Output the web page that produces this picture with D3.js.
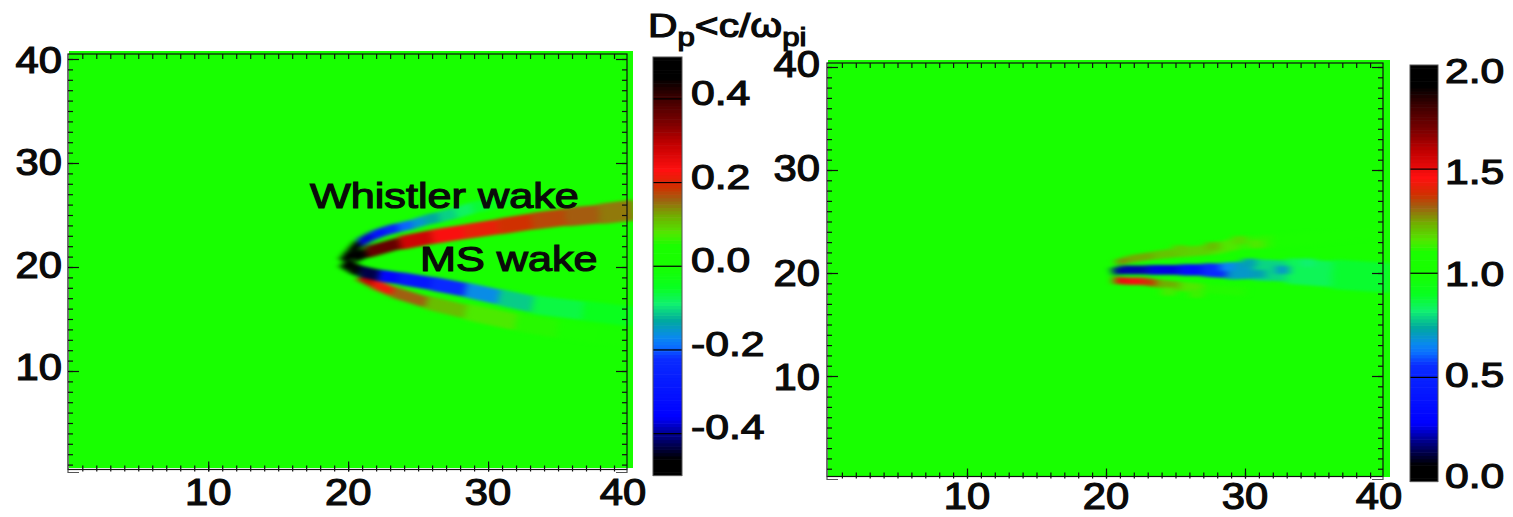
<!DOCTYPE html>
<html>
<head>
<meta charset="utf-8">
<script src="https://cdn.jsdelivr.net/npm/d3@7"></script>
<style>
  html, body { margin: 0; background: #fff; overflow: hidden; }
  text { font-family: "Liberation Sans", Arial, sans-serif; fill: #0a0a0a; stroke: #0a0a0a; stroke-width: 1.2px; }
</style>
</head>
<body>
<div id="chart"></div>
<script>
const axisTicks = [10, 20, 30, 40];
const minorTicks = d3.range(1, 41);

// colour table, position 0..1 along the bar
const colorStops = [0, 0.04, 0.1, 0.14, 0.28, 0.31, 0.33, 0.37, 0.41, 0.45, 0.5, 0.55, 0.58, 0.62, 0.66, 0.69, 0.73, 0.795, 0.84, 0.9, 0.95, 1];
const colorValues = ["#000000", "#000000", "#000090", "#0000ff", "#0a2cff", "#0a70ff", "#0a88f0", "#00a8a0", "#10f070", "#08ff20", "#18ff00", "#1aff00", "#50e800", "#70b000", "#a06010", "#d03000", "#ff1010", "#c00000", "#800000", "#400000", "#000000", "#000000"];

// left panel: wake ridges, x / y / value / width (y units)
const leftOuterX = [20.8, 21.8, 23.2, 25.6, 28.4, 32, 35, 38, 40.5];
const leftOuterY = [19.1, 18.4, 17.6, 16.6, 15.7, 14.7, 14, 13.4, 13];
const leftOuterV = [0.32, 0.25, 0.19, 0.13, 0.09, 0.065, 0.05, 0.04, 0.03];
const leftOuterW = [0.8, 0.9, 1, 1.2, 1.5, 1.7, 1.7, 1.7, 1.7];

const leftInnerX = [20.4, 21.3, 23.7, 26, 28.4, 30.8, 33.2, 35.6, 38, 40.5];
const leftInnerY = [20.8, 21.4, 22.3, 22.9, 23.4, 23.9, 24.4, 24.8, 25.1, 25.5];
const leftInnerV = [0.5, 0.42, 0.31, 0.25, 0.22, 0.2, 0.18, 0.17, 0.155, 0.14];
const leftInnerW = [0.8, 1, 1.3, 1.4, 1.4, 1.5, 1.6, 1.7, 1.9, 2.1];

const leftUpperX = [19.7, 20.2, 20.8, 21.7, 22.7, 23.6, 24.6, 25.5, 26.5, 27.7, 28.9, 30, 32];
const leftUpperY = [20.5, 21.4, 22.3, 23, 23.5, 23.8, 24.1, 24.5, 24.8, 25.2, 25.7, 26, 26.6];
const leftUpperV = [-0.5, -0.5, -0.42, -0.33, -0.28, -0.22, -0.17, -0.14, -0.12, -0.095, -0.07, -0.05, -0.03];
const leftUpperW = [1, 0.9, 0.9, 0.9, 0.9, 0.9, 0.9, 1, 1, 1.1, 1.1, 1.1, 1.1];

const leftLowerX = [19.7, 20.2, 20.8, 22.2, 23.7, 26, 28.4, 30.8, 33.2, 36.8, 40.5];
const leftLowerY = [20.5, 20, 19.6, 19.2, 18.9, 18.4, 17.8, 17.1, 16.4, 15.8, 15.2];
const leftLowerV = [-0.5, -0.5, -0.48, -0.38, -0.31, -0.27, -0.19, -0.14, -0.08, -0.055, -0.035];
const leftLowerW = [1.2, 1.2, 1.1, 1.1, 1.2, 1.3, 1.4, 1.5, 1.7, 1.9, 1.9];

// right panel
const rightCoreX = [20.5, 21, 23, 25.3, 27, 28.7, 30.6, 33, 36.3, 40.5];
const rightCoreY = [20.1, 20.3, 20.3, 20.3, 20.3, 20.2, 20.3, 20.2, 19.9, 19.5];
const rightCoreV = [0.2, 0.2, 0.24, 0.28, 0.44, 0.64, 0.76, 0.82, 0.87, 0.9];
const rightCoreW = [0.7, 0.8, 0.9, 1, 1.2, 1.5, 1.9, 2.2, 2.8, 3];

const rightLowerX = [20.6, 21.5, 22.7, 23.6, 25.3, 27, 30];
const rightLowerY = [19.3, 19.2, 19.2, 19, 18.7, 18.5, 18.2];
const rightLowerV = [1.5, 1.5, 1.44, 1.3, 1.18, 1.14, 1.08];
const rightLowerW = [0.7, 0.7, 0.7, 0.8, 0.9, 0.9, 0.9];

const rightUpperX = [20.8, 21.5, 23.4, 25.3, 27.7, 29.6, 32, 35, 38, 40.5];
const rightUpperY = [21, 21.3, 21.7, 22, 22.3, 22.9, 23.1, 23.4, 23.8, 24];
const rightUpperV = [1.3, 1.27, 1.22, 1.2, 1.18, 1.14, 1.1, 1.07, 1.05, 1.04];
const rightUpperW = [0.5, 0.7, 0.8, 0.9, 1.1, 1.2, 1.3, 1.3, 1.3, 1.3];

// small mottled patches around the right wake
const patchX = [28.7, 30.3, 31, 32.7, 25.3, 27.7, 29.6, 30.8, 24.5, 26.5, 34.5];
const patchY = [20.6, 21, 19.9, 20.3, 22.3, 22.6, 23.2, 22.8, 18.2, 18, 21];
const patchV = [0.66, 0.72, 0.72, 0.7, 1.2, 1.22, 1.18, 1.16, 1.15, 1.14, 0.82];

const leftBarTicks = [0.4, 0.2, 0, -0.2, -0.4];
const rightBarTicks = [2, 1.5, 1, 0.5, 0];

const svg = d3.select("#chart").append("svg")
  .attr("width", 1513)
  .attr("height", 517);

const colorAt = d3.scaleLinear().domain(colorStops).range(colorValues).clamp(true);

function toTracks(...rows) {
  return rows.map(r => r[0].map((x, i) => ({ x: x, y: r[1][i], v: r[2][i], w: r[3][i] })));
}

function drawPanel(p) {
  const x = d3.scaleLinear().domain([0, 40]).range(p.xRange);
  const y = d3.scaleLinear().domain([0, 40]).range(p.yRange);
  const norm = d3.scaleLinear().domain(p.valueDomain).range([0, 1]);
  const g = svg.append("g");

  const clipId = "clip" + p.id;
  g.append("clipPath").attr("id", clipId).append("rect")
    .attr("x", p.field[0]).attr("y", p.field[1])
    .attr("width", p.field[2] - p.field[0]).attr("height", p.field[3] - p.field[1]);

  const blurId = "blur" + p.id;
  g.append("filter").attr("id", blurId)
    .attr("x", "-5%").attr("y", "-5%").attr("width", "110%").attr("height", "110%")
    .attr("color-interpolation-filters", "sRGB")
    .append("feGaussianBlur").attr("stdDeviation", p.blur);

  const field = g.append("g").attr("clip-path", `url(#${clipId})`);
  field.append("rect")
    .attr("x", p.field[0]).attr("y", p.field[1])
    .attr("width", p.field[2] - p.field[0]).attr("height", p.field[3] - p.field[1])
    .attr("fill", colorAt(norm(p.background)));

  const marks = field.append("g").attr("filter", `url(#${blurId})`);
  p.tracks.forEach(track => {
    marks.append("g").selectAll("line")
      .data(d3.pairs(track))
      .enter().append("line")
      .attr("x1", d => x(d[0].x))
      .attr("y1", d => y(d[0].y))
      .attr("x2", d => x(d[1].x))
      .attr("y2", d => y(d[1].y))
      .attr("stroke", d => colorAt(norm((d[0].v + d[1].v) / 2)))
      .attr("stroke-width", d => (y(0) - y((d[0].w + d[1].w) / 2)))
      .attr("stroke-linecap", "butt");
  });
  marks.append("g").selectAll("rect")
    .data(p.patches)
    .enter().append("rect")
    .attr("x", d => x(d.x - 0.5))
    .attr("y", d => y(d.y + 0.4))
    .attr("width", x(1) - x(0))
    .attr("height", y(0) - y(0.8))
    .attr("fill", d => colorAt(norm(d.v)));

  // frame and tick marks, ticks poke slightly out of the bottom line
  const [fx0, fy0, fx1, fy1] = p.frame;
  g.append("rect")
    .attr("x", fx0).attr("y", fy0)
    .attr("width", fx1 - fx0).attr("height", fy1 - fy0)
    .attr("fill", "none").attr("stroke", "#111").attr("stroke-width", 1.2);
  g.append("path")
    .attr("d", `M${fx0},${fy1}V${fy1 + 3}H${fx0 + 11}M${fx1},${fy1}V${fy1 + 3}H${fx1 - 11}`)
    .attr("fill", "none").attr("stroke", "#555").attr("stroke-width", 1.2);

  function ticks(axis, at, vals, size) {
    const t = g.append("g").attr("transform", at)
      .call(axis.tickValues(vals).tickSize(size).tickFormat(""));
    t.select(".domain").remove();
    t.selectAll("line").attr("stroke", "#111").attr("stroke-width", 1.2);
  }
  const xTicks = minorTicks.filter(d => d < 40);
  ticks(d3.axisBottom(x), `translate(0,${fy1 + 2})`, xTicks, -6);
  ticks(d3.axisBottom(x), `translate(0,${fy1 + 2})`, axisTicks.filter(d => d < 40), -10);
  ticks(d3.axisTop(x), `translate(0,${fy0})`, xTicks, -5);
  ticks(d3.axisLeft(y), `translate(${fx0},0)`, minorTicks, -5);
  ticks(d3.axisLeft(y), `translate(${fx0},0)`, axisTicks, -11);
  ticks(d3.axisRight(y), `translate(${fx1},0)`, minorTicks, -5);
  ticks(d3.axisRight(y), `translate(${fx1},0)`, axisTicks, -11);

  // tick labels sit a bit off their ticks in the original
  const yLab = d3.scaleLinear().domain([10, 40]).range(p.yLabels);
  g.selectAll("text.yl").data(axisTicks).enter().append("text")
    .attr("class", "yl")
    .attr("transform", d => `translate(${p.yLabelX},${yLab(d)}) scale(1.16,1)`)
    .attr("text-anchor", "end")
    .attr("font-size", 36)
    .text(d => d);
  g.selectAll("text.xl").data(axisTicks).enter().append("text")
    .attr("class", "xl")
    .attr("transform", d => `translate(${x(d) + (d === 40 ? -5 : 0)},${p.xLabelY}) scale(1.16,1)`)
    .attr("text-anchor", "middle")
    .attr("font-size", 36)
    .text(d => d);

  // colour bar
  const [bx0, by0, bx1, by1] = p.bar;
  const barY = d3.scaleLinear().domain(p.valueDomain).range([by1, by0]);
  const levels = d3.range(0, 1, 1 / 128);
  const bar = g.append("g");
  bar.selectAll("rect").data(levels).enter().append("rect")
    .attr("x", bx0)
    .attr("width", bx1 - bx0)
    .attr("y", d => barY(norm.invert(d + 1 / 128)))
    .attr("height", (by1 - by0) / 128 + 0.6)
    .attr("fill", d => colorAt(d + 1 / 256));
  g.append("rect")
    .attr("x", bx0).attr("y", by0)
    .attr("width", bx1 - bx0).attr("height", by1 - by0)
    .attr("fill", "none").attr("stroke", "#555").attr("stroke-width", 1);
  const inner = p.barTicks.filter(d => d !== p.valueDomain[0] && d !== p.valueDomain[1]);
  bar.selectAll("line").data(inner).enter().append("line")
    .attr("x1", bx0).attr("x2", bx1)
    .attr("y1", d => barY(d)).attr("y2", d => barY(d))
    .attr("stroke", "#000").attr("stroke-width", 1.2);
  const labY = d3.scaleLinear().domain(p.barLabelDomain).range(p.barLabels);
  g.selectAll("text.bl").data(p.barTicks).enter().append("text")
    .attr("class", "bl")
    .attr("transform", d => `translate(${p.barLabelX},${labY(d)}) scale(1.22,1)`)
    .attr("font-size", 35)
    .text(d => d3.format(".1f")(d).replace("−", "-"));
}

drawPanel({
  id: "L",
  xRange: [68.3, 628],
  yRange: [475, 59],
  field: [69, 51, 633, 468],
  frame: [68, 54, 627, 469.5],
  valueDomain: [-0.5, 0.5],
  background: 0,
  blur: "3.5 1.6",
  tracks: toTracks(
    [leftOuterX, leftOuterY, leftOuterV, leftOuterW],
    [leftInnerX, leftInnerY, leftInnerV, leftInnerW],
    [leftUpperX, leftUpperY, leftUpperV, leftUpperW],
    [leftLowerX, leftLowerY, leftLowerV, leftLowerW]
  ),
  patches: [],
  yLabels: [380, 73],
  yLabelX: 62,
  xLabelY: 505,
  bar: [653, 57, 682, 475.5],
  barTicks: leftBarTicks,
  barLabelDomain: [-0.4, 0.4],
  barLabels: [439, 105],
  barLabelX: 691
});

drawPanel({
  id: "R",
  xRange: [828, 1384],
  yRange: [479, 67],
  field: [828, 60, 1390, 477],
  frame: [827, 63, 1383, 476.5],
  valueDomain: [0, 2],
  background: 1,
  blur: "4 1.8",
  tracks: toTracks(
    [rightUpperX, rightUpperY, rightUpperV, rightUpperW],
    [rightLowerX, rightLowerY, rightLowerV, rightLowerW],
    [rightCoreX, rightCoreY, rightCoreV, rightCoreW]
  ),
  patches: patchX.map((px, i) => ({ x: px, y: patchY[i], v: patchV[i] })),
  yLabels: [390, 77],
  yLabelX: 820,
  xLabelY: 509,
  bar: [1410, 65, 1438, 481.5],
  barTicks: rightBarTicks,
  barLabelDomain: [0, 2],
  barLabels: [488, 83],
  barLabelX: 1445
});

// annotations and bar title
svg.append("text")
  .attr("transform", "translate(310,208) scale(1.2,1)")
  .attr("font-size", 36)
  .text("Whistler wake");
svg.append("text")
  .attr("transform", "translate(420,271) scale(1.2,1)")
  .attr("font-size", 36)
  .text("MS wake");

const title = svg.append("text")
  .attr("transform", "translate(648,37) scale(1.2,1)")
  .attr("font-size", 34);
title.append("tspan").text("D");
title.append("tspan").attr("font-size", 26).attr("dy", 9).text("p");
title.append("tspan").attr("dy", -9).text("<c/ω");
title.append("tspan").attr("font-size", 26).attr("dy", 9).text("pi");
</script>
</body>
</html>
